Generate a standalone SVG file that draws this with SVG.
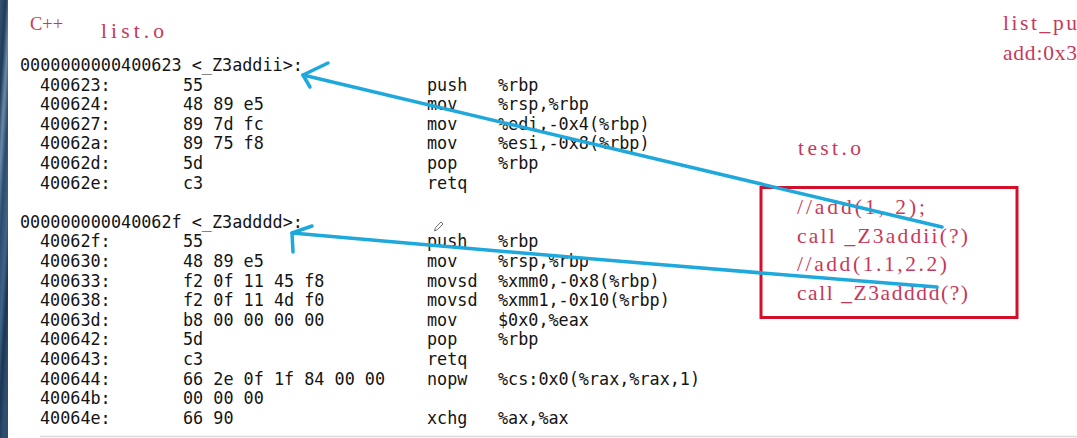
<svg xmlns="http://www.w3.org/2000/svg" width="1077" height="438" viewBox="0 0 1077 438">
<style>
.asm{font-family:"DejaVu Sans Mono","Liberation Mono",monospace;font-size:16.8px;fill:#141414}
.red{font-family:"Liberation Serif","DejaVu Serif",serif;font-size:21.5px;fill:#c8385a}
.blue{fill:none;stroke:#1ea8dc;stroke-width:3.5;stroke-linecap:round;stroke-linejoin:round}
.box{fill:none;stroke:#d2102c;stroke-width:3}
</style>
<defs>
<linearGradient id="strip" x1="0" y1="0" x2="0.3" y2="1">
<stop offset="0" stop-color="#3a5470"/>
<stop offset="0.2" stop-color="#1f3a5a"/>
<stop offset="0.35" stop-color="#6a8aa8"/>
<stop offset="0.5" stop-color="#2a4a6e"/>
<stop offset="0.7" stop-color="#3e6488"/>
<stop offset="0.85" stop-color="#1c3452"/>
<stop offset="1" stop-color="#2c4c70"/>
</linearGradient>
</defs>
<rect width="1077" height="438" fill="#ffffff"/>
<rect x="0" y="0" width="8" height="438" fill="url(#strip)"/>
<line x1="40" y1="436.5" x2="1077" y2="436.5" stroke="#dcdcdc" stroke-width="1.5"/>

<g id="labels">
<text class="red" x="30" y="30" style="font-size:18.5px">C++</text>
<text class="red" x="101" y="38" textLength="63" lengthAdjust="spacing">list.o</text>
<text class="red" x="1003" y="30" textLength="74" lengthAdjust="spacing">list_pu</text>
<text class="red" x="1003" y="60" textLength="74" lengthAdjust="spacing">add:0x3</text>
<text class="red" x="798" y="155" textLength="63" lengthAdjust="spacing">test.o</text>
</g>

<g id="addii-block">
<text class="asm" x="20" y="71">0000000000400623 &lt;_Z3addii&gt;:</text>
<text class="asm" y="90.6"><tspan x="40">400623:</tspan><tspan x="183">55</tspan><tspan x="427">push</tspan><tspan x="498">%rbp</tspan></text>
<text class="asm" y="110.2"><tspan x="40">400624:</tspan><tspan x="183">48 89 e5</tspan><tspan x="427">mov</tspan><tspan x="498">%rsp,%rbp</tspan></text>
<text class="asm" y="129.8"><tspan x="40">400627:</tspan><tspan x="183">89 7d fc</tspan><tspan x="427">mov</tspan><tspan x="498">%edi,-0x4(%rbp)</tspan></text>
<text class="asm" y="149.4"><tspan x="40">40062a:</tspan><tspan x="183">89 75 f8</tspan><tspan x="427">mov</tspan><tspan x="498">%esi,-0x8(%rbp)</tspan></text>
<text class="asm" y="169"><tspan x="40">40062d:</tspan><tspan x="183">5d</tspan><tspan x="427">pop</tspan><tspan x="498">%rbp</tspan></text>
<text class="asm" y="188.6"><tspan x="40">40062e:</tspan><tspan x="183">c3</tspan><tspan x="427">retq</tspan></text>
</g>

<g id="adddd-block">
<text class="asm" x="20" y="227.8">000000000040062f &lt;_Z3adddd&gt;:</text>
<text class="asm" y="247.4"><tspan x="40">40062f:</tspan><tspan x="183">55</tspan><tspan x="427">push</tspan><tspan x="498">%rbp</tspan></text>
<text class="asm" y="267"><tspan x="40">400630:</tspan><tspan x="183">48 89 e5</tspan><tspan x="427">mov</tspan><tspan x="498">%rsp,%rbp</tspan></text>
<text class="asm" y="286.6"><tspan x="40">400633:</tspan><tspan x="183">f2 0f 11 45 f8</tspan><tspan x="427">movsd</tspan><tspan x="498">%xmm0,-0x8(%rbp)</tspan></text>
<text class="asm" y="306.2"><tspan x="40">400638:</tspan><tspan x="183">f2 0f 11 4d f0</tspan><tspan x="427">movsd</tspan><tspan x="498">%xmm1,-0x10(%rbp)</tspan></text>
<text class="asm" y="325.8"><tspan x="40">40063d:</tspan><tspan x="183">b8 00 00 00 00</tspan><tspan x="427">mov</tspan><tspan x="498">$0x0,%eax</tspan></text>
<text class="asm" y="345.4"><tspan x="40">400642:</tspan><tspan x="183">5d</tspan><tspan x="427">pop</tspan><tspan x="498">%rbp</tspan></text>
<text class="asm" y="365"><tspan x="40">400643:</tspan><tspan x="183">c3</tspan><tspan x="427">retq</tspan></text>
<text class="asm" y="384.6"><tspan x="40">400644:</tspan><tspan x="183">66 2e 0f 1f 84 00 00</tspan><tspan x="427">nopw</tspan><tspan x="498">%cs:0x0(%rax,%rax,1)</tspan></text>
<text class="asm" y="404.2"><tspan x="40">40064b:</tspan><tspan x="183">00 00 00</tspan></text>
<text class="asm" y="423.8"><tspan x="40">40064e:</tspan><tspan x="183">66 90</tspan><tspan x="427">xchg</tspan><tspan x="498">%ax,%ax</tspan></text>
</g>

<g id="test-box">
<rect class="box" x="761" y="187.5" width="256" height="130"/>
<text class="red" x="797" y="214" textLength="128" lengthAdjust="spacing">//add(1, 2);</text>
<text class="red" x="797" y="243" textLength="171" lengthAdjust="spacing">call _Z3addii(?)</text>
<text class="red" x="797" y="271" textLength="150" lengthAdjust="spacing">//add(1.1,2.2)</text>
<text class="red" x="797" y="300" textLength="171" lengthAdjust="spacing">call _Z3adddd(?)</text>
</g>

<g id="connectors">
<path class="blue" d="M942,227 L303,75"/>
<path class="blue" d="M328,63 L303,75 L310,87"/>
<path class="blue" d="M937,287 Q620,262 292,233"/>
<path class="blue" d="M312,226 L292,233 L293,252"/>
</g>

<g id="cursor" fill="#ffffff" stroke="#707070" stroke-width="1">
<path d="M434.5,231 L435.5,227.5 L441,222 L443,224 L437.5,229.5 Z"/>
</g>
</svg>
